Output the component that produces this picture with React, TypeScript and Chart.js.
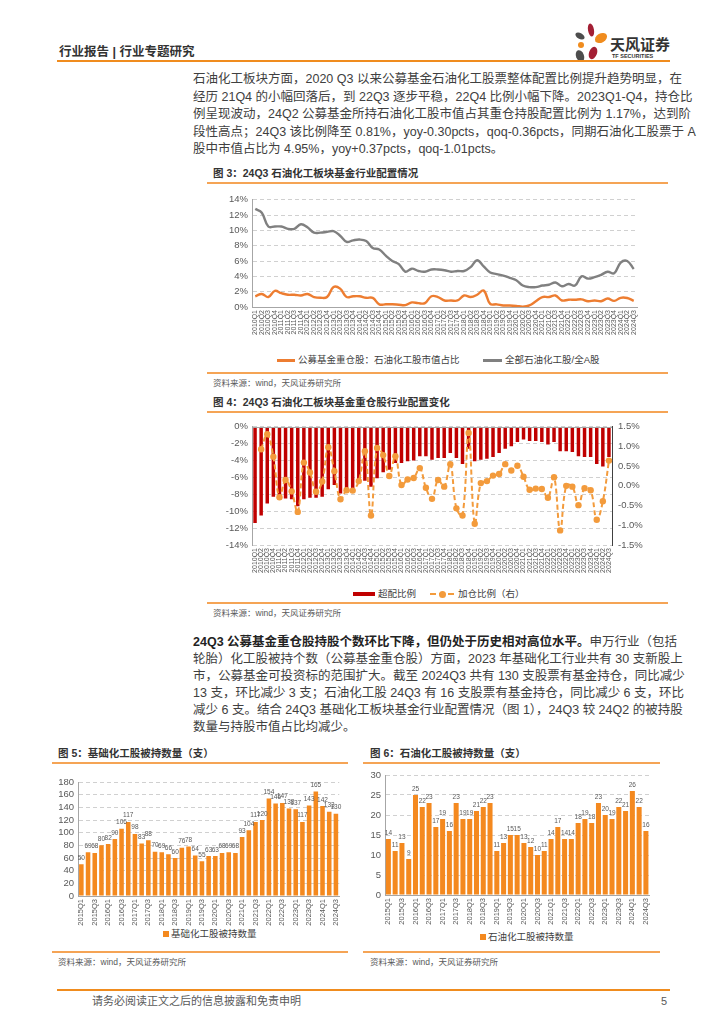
import React, { useEffect, useRef } from 'react';
import { Chart, registerables } from 'chart.js';

Chart.register(...registerables);

// ---------- DATA ----------
const QUARTERS = [
  '2010Q1', '2010Q2', '2010Q3', '2010Q4', '2011Q1', '2011Q2', '2011Q3', '2011Q4',
  '2012Q1', '2012Q2', '2012Q3', '2012Q4', '2013Q1', '2013Q2', '2013Q3', '2013Q4',
  '2014Q1', '2014Q2', '2014Q3', '2014Q4', '2015Q1', '2015Q2', '2015Q3', '2015Q4',
  '2016Q1', '2016Q2', '2016Q3', '2016Q4', '2017Q1', '2017Q2', '2017Q3', '2017Q4',
  '2018Q1', '2018Q2', '2018Q3', '2018Q4', '2019Q1', '2019Q2', '2019Q3', '2019Q4',
  '2020Q1', '2020Q2', '2020Q3', '2020Q4', '2021Q1', '2021Q2', '2021Q3', '2021Q4',
  '2022Q1', '2022Q2', '2022Q3', '2022Q4', '2023Q1', '2023Q2', '2023Q3', '2023Q4',
  '2024Q1', '2024Q2', '2024Q3',
];

// Fig 3 (%)
const fundHeavyShare = [
  1.4, 1.7, 1.3, 2.1, 1.8, 1.6, 1.6, 1.5, 1.7, 1.3,
  1.2, 1.3, 2.6, 2.4, 1.3, 1.4, 1.4, 1.2, 1.2, 0.35,
  0.35, 0.35, 0.3, 0.25, 0.6, 0.5, 0.5, 1.4, 1.3, 0.85,
  0.85, 0.85, 1.5, 1.3, 1.6, 2.15, 0.4, 0.35, 0.2, 0.2,
  0.15, 0.05, 0.2, 0.75, 1.3, 1.3, 1.5, 0.85, 0.95, 0.95,
  1.0, 0.75, 0.85, 0.75, 1.1, 0.8, 1.2, 1.17, 0.81,
];
const allPetroShare = [
  12.8, 12.3, 10.5, 10.5, 10.5, 10.2, 10.2, 10.8, 10.4, 9.7,
  9.7, 9.8, 9.9, 9.3, 8.5, 8.7, 8.8, 8.6, 7.7, 7.5,
  6.7, 6.0, 5.6, 4.6, 5.0, 4.7, 4.6, 4.9, 4.9, 4.8,
  4.6, 4.7, 4.7, 5.2, 6.1, 5.3, 4.5, 4.3, 4.1, 3.8,
  3.5, 2.8, 2.6, 2.6, 2.8, 2.9, 3.2, 2.7, 3.0, 2.8,
  4.0, 3.7, 3.9, 4.2, 4.6, 4.4, 5.8, 6.0, 4.95,
];

// Fig 4 (%)
const overweight = [
  -11.4, -10.5, -9.1, -8.3, -8.6, -8.5, -8.6, -9.4, -8.6, -8.4,
  -8.4, -8.3, -7.4, -6.9, -7.9, -7.5, -7.3, -6.6, -6.4, -7.1,
  -6.1, -5.4, -5.1, -4.3, -4.3, -4.1, -4.0, -3.5, -3.5, -3.9,
  -3.7, -3.7, -3.1, -3.7, -4.4, -2.6, -4.1, -3.9, -3.8, -3.6,
  -3.1, -2.6, -2.3, -1.8, -1.5, -1.7, -1.7, -1.8, -2.1, -1.8,
  -2.9, -2.9, -3.0, -3.5, -3.6, -3.6, -4.4, -4.7, -3.6,
];
const addRatio = [
  null, 0.93, 1.31, 0.74, -0.29, 0.15, -0.14, -0.66, 0.59, 0.34,
  -0.15, 0.11, 0.98, 0.37, -0.34, -0.11, -0.12, 0.12, 0.88, -0.75,
  0.96, 0.78, 0.25, 0.75, 0.02, 0.16, 0.2, 0.45, -0.05, -0.33,
  0.15, -0.02, 0.55, -0.57, -0.75, 1.34, -0.96, 0.07, 0.12, 0.26,
  0.3, 0.55, 0.39, 0.51, 0.23, -0.1, -0.07, -0.08, -0.3, 0.22,
  -1.13, 0.0, -0.02, -0.49, -0.06, -0.11, -0.86, -0.39, 0.64,
];

// Fig 5 / Fig 6
const FIG56_LABELS = QUARTERS.slice(20);
const basicChemHeld = [
  50, 69, 68, 80, 82, 90, 106, 117, 98, 83,
  88, 70, 69, 66, 60, 76, 78, 64, 55, 63,
  63, 68, 69, 68, 93, 104, 117, 120, 154, 146,
  147, 138, 137, 117, 143, 165, 142, 133, 130,
];
const petroHeld = [
  14, 11, 13, 9, 25, 22, 23, 17, 19, 16,
  23, 19, 19, 21, 22, 23, 11, 13, 15, 15,
  13, 12, 10, 11, 14, 17, 14, 14, 18, 19,
  18, 23, 20, 19, 22, 21, 26, 22, 16,
];

// ---------- STYLE ----------
const FONT = '"Liberation Sans", "Noto Sans CJK SC", sans-serif';
const TICK = '#595959';
const GRID = '#D0D0D0';
const AXIS = '#A6A6A6';
const ORANGE_LINE = '#F5A455';

const valueLabels = {
  id: 'valueLabels',
  afterDatasetsDraw(chart: any, _args: any, opts: any) {
    const { ctx } = chart;
    const meta = chart.getDatasetMeta(0);
    const data = chart.data.datasets[0].data;
    ctx.save();
    ctx.font = opts.fontSpec;
    ctx.fillStyle = opts.textColor;
    ctx.textAlign = 'center';
    ctx.textBaseline = 'bottom';
    meta.data.forEach((el: any, i: number) => {
      ctx.fillText(String(data[i]), el.x, el.y - 3);
    });
    ctx.restore();
  },
};

const topLine = {
  id: 'topLine',
  afterDatasetsDraw(chart: any) {
    const { ctx, chartArea } = chart;
    ctx.save();
    ctx.strokeStyle = AXIS;
    ctx.lineWidth = 1;
    ctx.beginPath();
    ctx.moveTo(chartArea.left, Math.round(chartArea.top) + 0.5);
    ctx.lineTo(chartArea.right, Math.round(chartArea.top) + 0.5);
    ctx.stroke();
    ctx.restore();
  },
};

const quarterTicks = (size: number) => ({
  autoSkip: false,
  minRotation: 90,
  maxRotation: 90,
  padding: 3,
  font: { size, family: FONT },
  color: TICK,
});

function fig3Config(): any {
  return {
    type: 'line',
    data: {
      labels: QUARTERS,
      datasets: [
        { label: '公募基金重仓股：石油化工股市值占比', data: fundHeavyShare, borderColor: '#ED7D31', borderWidth: 2.4, pointRadius: 0, tension: 0.4 },
        { label: '全部石油化工股/全A股', data: allPetroShare, borderColor: '#808080', borderWidth: 2.4, pointRadius: 0, tension: 0.4 },
      ],
    },
    options: {
      animation: false,
      responsive: true,
      maintainAspectRatio: false,
      layout: { padding: { top: 8, right: 15, left: 0, bottom: 0 } },
      plugins: { legend: { display: false }, tooltip: { enabled: false } },
      scales: {
        x: {
          offset: true,
          grid: { display: false, drawTicks: false, tickLength: 0 },
          border: { display: true, color: AXIS },
          ticks: quarterTicks(7),
          afterFit: (s: any) => { s.height = 35; },
        },
        y: {
          min: 0,
          max: 14,
          ticks: { stepSize: 2, autoSkip: false, callback: (v: number) => v + '%', font: { size: 9.5, family: FONT }, color: TICK, padding: 4 },
          grid: { color: GRID, drawTicks: false },
          border: { display: true, color: AXIS, dash: [4, 3] },
          afterFit: (s: any) => { s.width = 52; },
        },
      },
    },
  };
}

function fig4Config(): any {
  return {
    type: 'bar',
    data: {
      labels: QUARTERS,
      datasets: [
        {
          type: 'line', label: '加仓比例（右）', data: addRatio, yAxisID: 'y2',
          borderColor: '#F39B3C', borderWidth: 2, borderDash: [5, 3],
          pointRadius: 3.2, pointBackgroundColor: '#F39B3C', pointBorderWidth: 0,
          tension: 0.4, order: 0, spanGaps: true,
        },
        {
          type: 'bar', label: '超配比例', data: overweight, yAxisID: 'y',
          backgroundColor: '#C00000', barPercentage: 0.6, categoryPercentage: 0.95, order: 1,
        },
      ],
    },
    options: {
      animation: false,
      responsive: true,
      maintainAspectRatio: false,
      layout: { padding: { top: 8, right: 0, left: 0, bottom: 0 } },
      plugins: { legend: { display: false }, tooltip: { enabled: false } },
      scales: {
        x: {
          grid: { display: false, drawTicks: false, tickLength: 0 },
          border: { display: false },
          ticks: quarterTicks(7),
          afterFit: (s: any) => { s.height = 33; },
        },
        y: {
          position: 'left',
          min: -14,
          max: 0,
          ticks: { stepSize: 2, autoSkip: false, callback: (v: number) => v + '%', font: { size: 9.5, family: FONT }, color: TICK, padding: 4 },
          grid: { color: GRID, drawTicks: false },
          border: { display: true, color: AXIS, dash: [4, 3] },
          afterFit: (s: any) => { s.width = 52; },
        },
        y2: {
          position: 'right',
          min: -1.5,
          max: 1.5,
          ticks: { stepSize: 0.5, autoSkip: false, callback: (v: number) => Number(v).toFixed(1) + '%', font: { size: 9.5, family: FONT }, color: TICK, padding: 6 },
          grid: { display: false, drawOnChartArea: false, drawTicks: false },
          border: { display: true, color: '#404040' },
          afterFit: (s: any) => { s.width = 50; },
        },
      },
    },
    plugins: [topLine],
  };
}

function countConfig(data: number[], label: string, max: number, step: number, yWidth: number, barPct: number): any {
  return {
    type: 'bar',
    data: {
      labels: FIG56_LABELS,
      datasets: [{ label, data, backgroundColor: '#F4891F', barPercentage: barPct, categoryPercentage: 1 }],
    },
    options: {
      animation: false,
      responsive: true,
      maintainAspectRatio: false,
      layout: { padding: { top: 10, right: 7, left: 0, bottom: 0 } },
      plugins: {
        legend: { display: false },
        tooltip: { enabled: false },
        valueLabels: { fontSpec: '6.5px "Liberation Sans"', textColor: TICK },
      },
      scales: {
        x: {
          grid: { display: false, drawTicks: false, tickLength: 0 },
          border: { display: true, color: AXIS },
          ticks: {
            ...quarterTicks(7.5),
            callback: (_v: any, i: number) => (i % 2 === 0 ? FIG56_LABELS[i] : ''),
          },
          afterFit: (s: any) => { s.height = 30; },
        },
        y: {
          min: 0,
          max,
          ticks: { stepSize: step, autoSkip: false, font: { size: 9.5, family: FONT }, color: TICK, padding: 4 },
          grid: { color: GRID, drawTicks: false },
          border: { display: true, color: AXIS, dash: [4, 3] },
          afterFit: (s: any) => { s.width = yWidth; },
        },
      },
    },
    plugins: [valueLabels],
  };
}

// ---------- COMPONENTS ----------
function ChartBox(props: { left: number; top: number; width: number; height: number; make: () => any }) {
  const ref = useRef<HTMLCanvasElement>(null);
  useEffect(() => {
    const chart = new Chart(ref.current as HTMLCanvasElement, props.make());
    return () => chart.destroy();
  }, []);
  return (
    <div style={{ position: 'absolute', left: props.left, top: props.top, width: props.width, height: props.height }}>
      <canvas ref={ref} />
    </div>
  );
}

function T(props: { x: number; y: number; size: number; bold?: boolean; color?: string; children: any }) {
  return (
    <div
      style={{
        position: 'absolute', left: props.x, top: props.y, transform: 'translateY(-50%)',
        fontSize: props.size, lineHeight: 1, whiteSpace: 'nowrap',
        fontWeight: props.bold ? 700 : 400, color: props.color || '#404040',
      }}
    >
      {props.children}
    </div>
  );
}

function HLine(props: { x1: number; x2: number; y: number; h?: number; color?: string }) {
  const h = props.h || 1.5;
  return <div style={{ position: 'absolute', left: props.x1, top: props.y - h / 2, width: props.x2 - props.x1, height: h, background: props.color || ORANGE_LINE }} />;
}

function ParaLine(props: { y: number; last?: boolean; children: any }) {
  return (
    <div
      style={{
        position: 'absolute', left: 193, width: 474, top: props.y, transform: 'translateY(-50%)',
        fontSize: 12.5, lineHeight: 1, whiteSpace: 'nowrap', color: '#404040',
        textAlign: props.last ? 'left' : 'justify', textAlignLast: props.last ? 'left' : 'justify',
      } as any}
    >
      {props.children}
    </div>
  );
}

const SOURCE = '资料来源：wind，天风证券研究所';

export default function App() {
  const p1 = [
    '石油化工板块方面，2020 Q3 以来公募基金石油化工股票整体配置比例提升趋势明显，在',
    '经历 21Q4 的小幅回落后，到 22Q3 逐步平稳，22Q4 比例小幅下降。2023Q1-Q4，持仓比',
    '例呈现波动，24Q2 公募基金所持石油化工股市值占其重仓持股配置比例为 1.17%，达到阶',
    '段性高点；24Q3 该比例降至 0.81%，yoy-0.30pcts，qoq-0.36pcts，同期石油化工股票于 A',
    '股中市值占比为 4.95%，yoy+0.37pcts，qoq-1.01pcts。',
  ];
  const p2 = [
    '轮胎）化工股被持个数（公募基金重仓股）方面，2023 年基础化工行业共有 30 支新股上',
    '市，公募基金可投资标的范围扩大。截至 2024Q3 共有 130 支股票有基金持仓，同比减少',
    '13 支，环比减少 3 支；石油化工股 24Q3 有 16 支股票有基金持仓，同比减少 6 支，环比',
    '减少 6 支。结合 24Q3 基础化工板块基金行业配置情况（图 1），24Q3 较 24Q2 的被持股',
    '数量与持股市值占比均减少。',
  ];
  return (
    <div style={{ position: 'absolute', left: 0, top: 0, width: 724, height: 1024, background: '#fff', overflow: 'hidden', fontFamily: FONT }}>
      {/* header */}
      <T x={59} y={52} size={12.5} bold color="#333">行业报告 | 行业专题研究</T>
      <svg style={{ position: 'absolute', left: 568, top: 20 }} width={44} height={46} viewBox="568 20 44 46">
        <ellipse cx={591} cy={30} rx={3} ry={6.5} fill="#A31F34" transform="rotate(-10 591 30)" />
        <ellipse cx={580} cy={36} rx={5} ry={3} fill="#4D4D4D" transform="rotate(30 580 36)" />
        <ellipse cx={601} cy={38} rx={6.5} ry={4.5} fill="#F08C1E" transform="rotate(-30 601 38)" />
        <circle cx={581} cy={45} r={3} fill="#F08C1E" />
        <ellipse cx={593} cy={53} rx={4} ry={6.5} fill="#A31F34" transform="rotate(20 593 53)" />
        <ellipse cx={580} cy={56} rx={4} ry={6} fill="#4D4D4D" transform="rotate(-20 580 56)" />
      </svg>
      <T x={610} y={44} size={15} bold color="#333">天风证券</T>
      <T x={612} y={57} size={5.5} bold color="#333">TF SECURITIES</T>
      <HLine x1={57} x2={670} y={61} h={2} color="#F08C1E" />

      {/* paragraph 1 */}
      {p1.map((s, i) => (
        <ParaLine key={i} y={79 + i * 17.5} last={i === p1.length - 1}>{s}</ParaLine>
      ))}

      {/* Figure 3 */}
      <T x={213} y={173} size={10.5} bold color="#333">图 3：24Q3 石油化工板块基金行业配置情况</T>
      <HLine x1={207} x2={668} y={183} />
      <ChartBox left={200} top={190} width={452} height={152} make={fig3Config} />
      <div style={{ position: 'absolute', left: 277, top: 359, width: 18, height: 2.5, background: '#ED7D31' }} />
      <T x={298} y={360} size={9.5}>公募基金重仓股：石油化工股市值占比</T>
      <div style={{ position: 'absolute', left: 483, top: 359, width: 19, height: 2.5, background: '#808080' }} />
      <T x={505} y={360} size={9.5}>全部石油化工股/全A股</T>
      <HLine x1={207} x2={668} y={373} />
      <T x={213} y={383} size={8.5} color={TICK}>{SOURCE}</T>

      {/* Figure 4 */}
      <T x={213} y={402} size={10.5} bold color="#333">图 4：24Q3 石油化工板块基金重仓股行业配置变化</T>
      <HLine x1={207} x2={668} y={412} />
      <ChartBox left={200} top={415} width={462} height={163} make={fig4Config} />
      <div style={{ position: 'absolute', left: 353, top: 592, width: 22, height: 4, background: '#C00000' }} />
      <T x={378} y={594} size={9.5}>超配比例</T>
      <div style={{ position: 'absolute', left: 430, top: 593, width: 24, height: 0, borderTop: '2px dashed #F39B3C' }} />
      <div style={{ position: 'absolute', left: 439, top: 591, width: 7, height: 7, borderRadius: 4, background: '#F39B3C' }} />
      <T x={458} y={594} size={9.5}>加仓比例（右）</T>
      <HLine x1={207} x2={668} y={603} />
      <T x={213} y={613} size={8.5} color={TICK}>{SOURCE}</T>

      {/* paragraph 2 */}
      <ParaLine y={642}>
        <span style={{ fontWeight: 700, color: '#222' }}>24Q3 公募基金重仓股持股个数环比下降，但仍处于历史相对高位水平。</span>申万行业（包括
      </ParaLine>
      {p2.map((s, i) => (
        <ParaLine key={i} y={642 + (i + 1) * 17} last={i === p2.length - 1}>{s}</ParaLine>
      ))}

      {/* Figure 5 */}
      <T x={58} y={753} size={10.5} bold color="#333">图 5：基础化工股被持数量（支）</T>
      <HLine x1={52} x2={348} y={763} />
      <ChartBox left={44} top={772} width={304} height={154} make={() => countConfig(basicChemHeld, '基础化工股被持数量', 180, 20, 34, 0.68)} />
      <div style={{ position: 'absolute', left: 163, top: 931, width: 6, height: 6, background: '#F4891F' }} />
      <T x={171} y={934} size={9.5}>基础化工股被持数量</T>
      <HLine x1={52} x2={348} y={952} />
      <T x={58} y={962} size={8.5} color={TICK}>{SOURCE}</T>

      {/* Figure 6 */}
      <T x={370} y={753} size={10.5} bold color="#333">图 6：石油化工股被持数量（支）</T>
      <HLine x1={363} x2={660} y={763} />
      <ChartBox left={360} top={765} width={298} height={160} make={() => countConfig(petroHeld, '石油化工股被持数量', 30, 5, 25, 0.74)} />
      <div style={{ position: 'absolute', left: 480, top: 934, width: 6, height: 6, background: '#F4891F' }} />
      <T x={488} y={937} size={9.5}>石油化工股被持数量</T>
      <HLine x1={363} x2={660} y={952} />
      <T x={370} y={962} size={8.5} color={TICK}>{SOURCE}</T>

      {/* footer */}
      <HLine x1={57} x2={670} y={990} h={2} color="#F08C1E" />
      <T x={92} y={1001} size={11} color={TICK}>请务必阅读正文之后的信息披露和免责申明</T>
      <T x={661} y={1001} size={11} color={TICK}>5</T>
    </div>
  );
}
